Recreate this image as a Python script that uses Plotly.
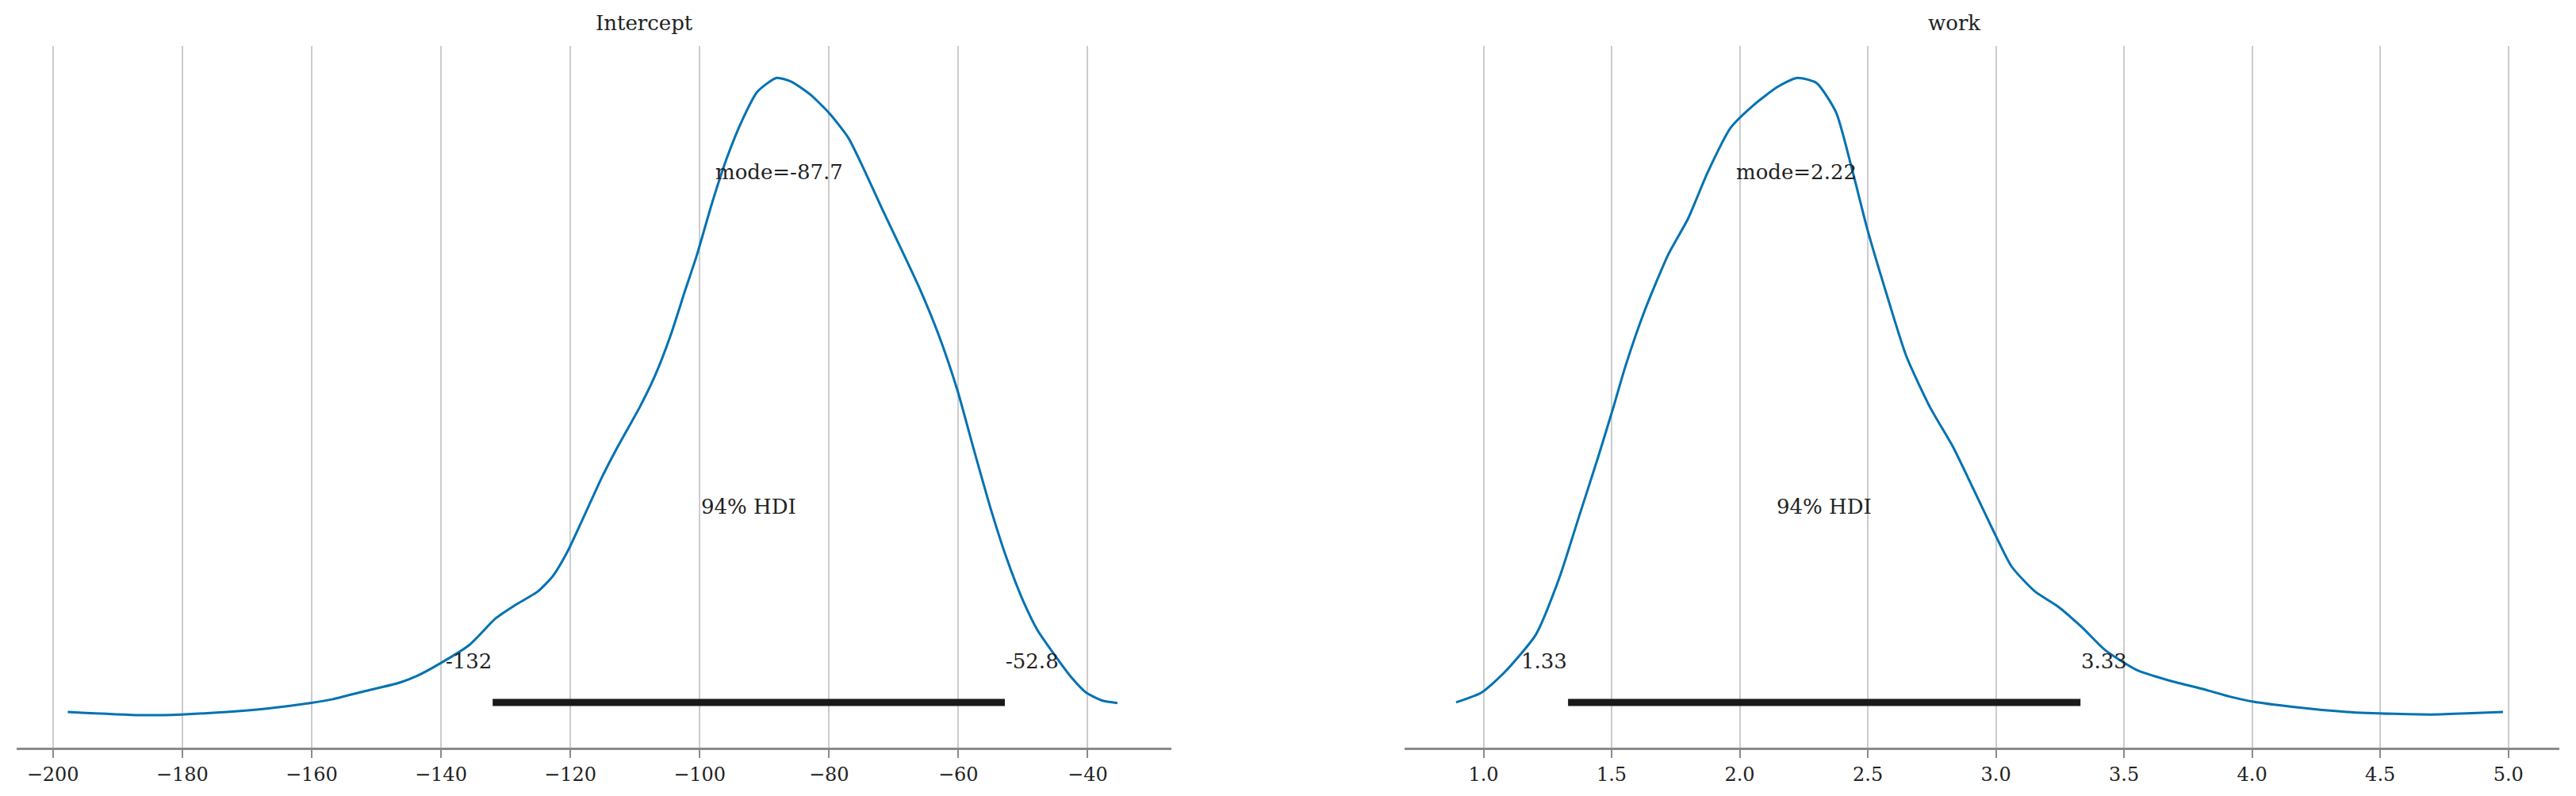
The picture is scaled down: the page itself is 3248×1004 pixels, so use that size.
import plotly.graph_objects as go

# ---- data (density normalised so that peak = 1) ----
intercept_x = [-197.7, -186.5, -180.1, -173.1, -167.2, -160.2, -156.7, -152.0, -146.7, -143.8,
               -140.3, -135.6, -131.5, -128.6, -125.0, -122.7, -120.4, -118.0, -115.1, -112.7,
               -109.2, -106.9, -104.5, -102.2, -100.4, -98.1, -95.8, -93.4, -91.1, -88.1,
               -85.8, -82.9, -79.9, -77.0, -74.7, -71.8, -68.8, -65.9, -63.0, -60.1,
               -57.7, -54.8, -52.5, -50.1, -47.8, -44.8, -42.5, -40.2, -37.8, -35.4]
intercept_y = [0.006, 0.001, 0.002, 0.006, 0.011, 0.020, 0.026, 0.038, 0.051, 0.062,
               0.081, 0.111, 0.153, 0.173, 0.195, 0.219, 0.258, 0.310, 0.374, 0.421,
               0.485, 0.533, 0.596, 0.668, 0.723, 0.803, 0.874, 0.934, 0.978, 1.000,
               0.994, 0.974, 0.944, 0.906, 0.859, 0.795, 0.731, 0.668, 0.596, 0.509,
               0.421, 0.318, 0.246, 0.183, 0.135, 0.091, 0.060, 0.036, 0.024, 0.020]

work_x = [0.893, 0.991, 1.082, 1.204, 1.295, 1.371, 1.447, 1.508, 1.554, 1.630,
          1.721, 1.798, 1.874, 1.965, 2.056, 2.148, 2.224, 2.300, 2.376, 2.437,
          2.498, 2.574, 2.650, 2.741, 2.833, 2.909, 2.985, 3.061, 3.152, 3.243,
          3.335, 3.426, 3.548, 3.670, 3.807, 3.913, 4.004, 4.157, 4.370, 4.552,
          4.705, 4.857, 4.979]
work_y = [0.021, 0.036, 0.068, 0.127, 0.215, 0.310, 0.405, 0.485, 0.548, 0.636,
          0.723, 0.779, 0.851, 0.922, 0.958, 0.986, 1.000, 0.992, 0.946, 0.859,
          0.763, 0.660, 0.564, 0.485, 0.421, 0.358, 0.294, 0.234, 0.195, 0.171,
          0.139, 0.103, 0.072, 0.056, 0.042, 0.030, 0.022, 0.014, 0.006, 0.003,
          0.002, 0.004, 0.006]

titles = ["Intercept", "work"]
hdi_low = [-132, 1.33]
hdi_high = [-52.8, 3.33]
hdi_low_lbl = ["-132", "1.33"]
hdi_high_lbl = ["-52.8", "3.33"]
modes = [-87.7, 2.22]
mode_lbl = ["mode=-87.7", "mode=2.22"]
hdi_text = "94% HDI"

tick_left = [-200, -180, -160, -140, -120, -100, -80, -60, -40]
tick_right = [1.0, 1.5, 2.0, 2.5, 3.0, 3.5, 4.0, 4.5, 5.0]

# plot height reference (matplotlib-like ylim with 5% margins)
peak = 1.0
ylo, yhi = -0.05 * peak, 1.05 * peak
ph = yhi

FONT = "DejaVu Serif"
BLUE = "#0072B2"
TXT = "#222222"

W, H = 3232, 988  # page body has an 8px margin

fig = go.Figure()
curves = [(intercept_x, intercept_y), (work_x, work_y)]
for i, (cx, cy) in enumerate(curves):
    xa = "x" if i == 0 else "x2"
    ya = "y" if i == 0 else "y2"
    fig.add_trace(go.Scatter(x=cx, y=cy, mode="lines", line=dict(color=BLUE, width=3, shape="spline", smoothing=0.6),
                             xaxis=xa, yaxis=ya, showlegend=False, hoverinfo="skip"))
    fig.add_trace(go.Scatter(x=[hdi_low[i], hdi_high[i]], y=[ph * 0.02, ph * 0.02], mode="lines",
                             line=dict(color="#1a1a1a", width=9), xaxis=xa, yaxis=ya,
                             showlegend=False, hoverinfo="skip"))
    mid = (hdi_low[i] + hdi_high[i]) / 2
    anns = [
        dict(x=modes[i], y=ph * 0.8, text=mode_lbl[i], xanchor="center"),
        dict(x=mid, y=ph * 0.3, text=hdi_text, xanchor="center"),
        dict(x=hdi_low[i], y=ph * 0.07, text=hdi_low_lbl[i], xanchor="right"),
        dict(x=hdi_high[i], y=ph * 0.07, text=hdi_high_lbl[i], xanchor="left"),
    ]
    for a in anns:
        fig.add_annotation(x=a["x"], y=a["y"], text=a["text"], xanchor=a["xanchor"], yanchor="bottom",
                           xref=xa, yref=ya, showarrow=False, yshift=-6, borderpad=0,
                           font=dict(family=FONT, size=26, color=TXT))

dom_l = [13 / W, 1469 / W]
dom_r = [1763 / W, 3219 / W]
for i, dom in enumerate([dom_l, dom_r]):
    fig.add_annotation(x=(dom[0] + dom[1]) / 2, y=1, xref="paper", yref="paper", text=titles[i],
                       showarrow=False, yanchor="bottom", yshift=12,
                       font=dict(family=FONT, size=26, color=TXT))

axis_common = dict(showline=True, linecolor="#8a8a8a", linewidth=3, ticks="outside", ticklen=10,
                   tickwidth=2, tickcolor="#8a8a8a", showgrid=True, gridcolor="#cccccc", gridwidth=2,
                   zeroline=False, tickfont=dict(family=FONT, size=24, color=TXT), mirror=False)
yaxis_common = dict(range=[ylo, yhi], showticklabels=False, showgrid=False, zeroline=False, showline=False,
                    ticks="")

fig.update_layout(
    width=W, height=H,
    paper_bgcolor="white", plot_bgcolor="white",
    margin=dict(l=0, r=0, t=50, b=53),
    xaxis=dict(domain=dom_l, range=[-205.6, -27.05], tickvals=tick_left, anchor="y", **axis_common),
    xaxis2=dict(domain=dom_r, range=[0.692, 5.199], tickvals=tick_right, tickformat=".1f", anchor="y2",
                **axis_common),
    yaxis=dict(anchor="x", **yaxis_common),
    yaxis2=dict(anchor="x2", **yaxis_common),
)

fig.write_html("out.html")
